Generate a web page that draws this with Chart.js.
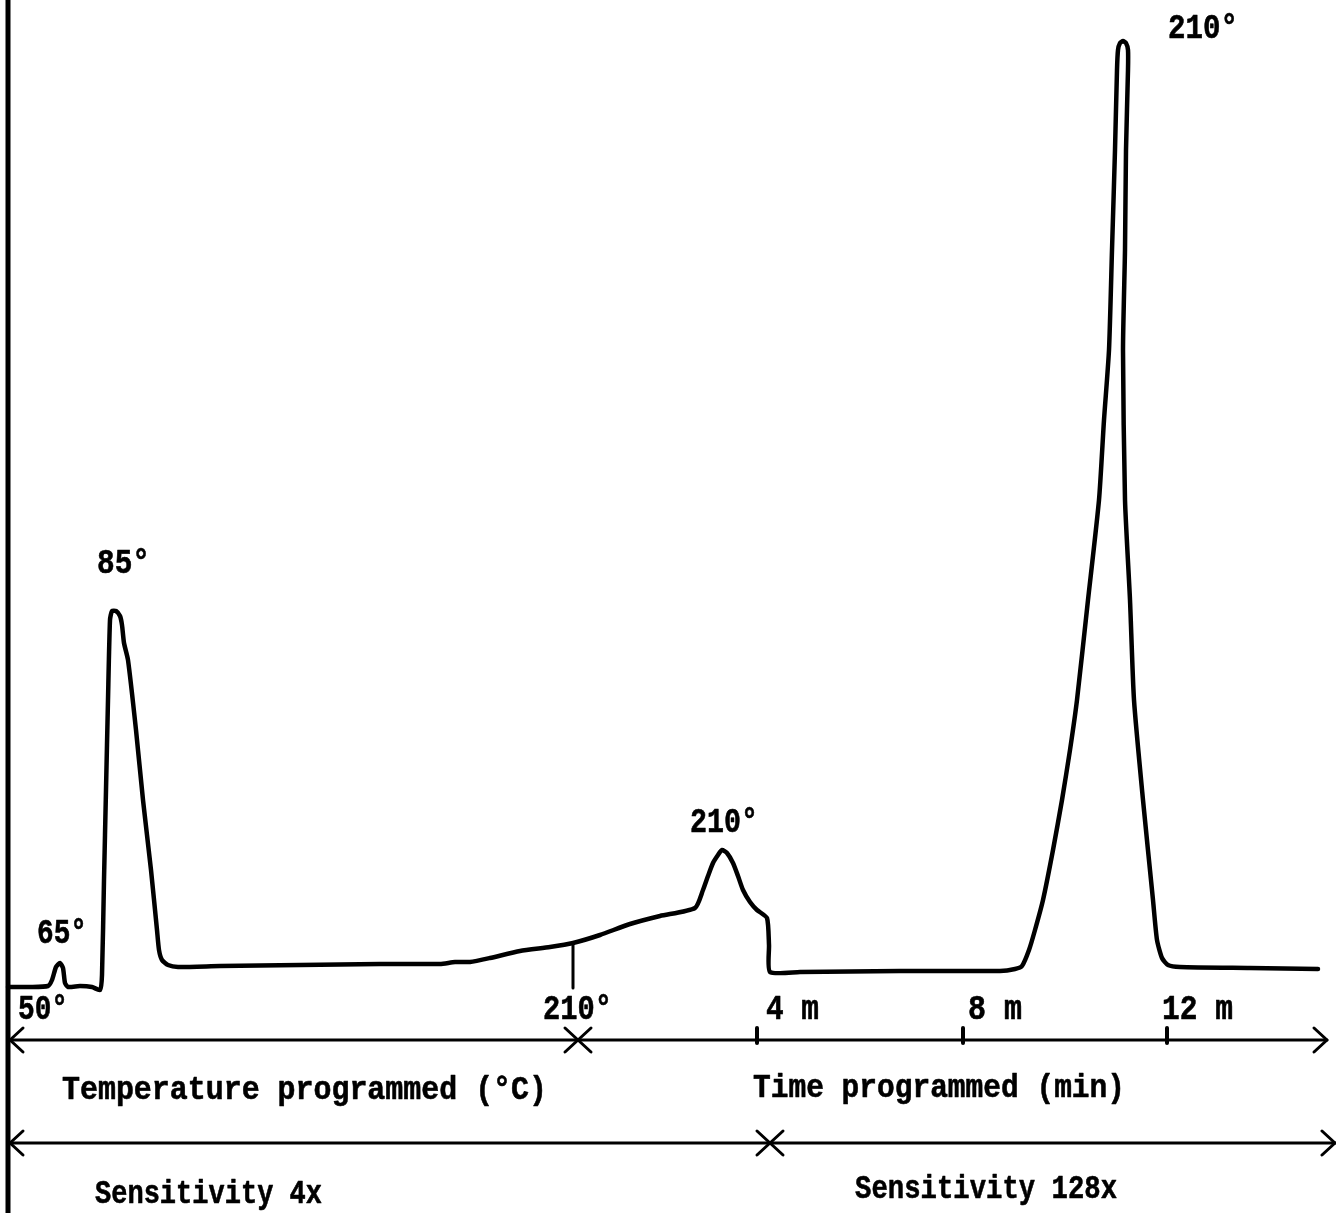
<!DOCTYPE html>
<html>
<head>
<meta charset="utf-8">
<title>Chromatogram</title>
<script src="https://cdn.jsdelivr.net/npm/chart.js@4.4.0/dist/chart.umd.min.js"></script>
<style>
  html, body { margin: 0; padding: 0; background: #fff; }
  #wrap { width: 1336px; height: 1213px; }
</style>
</head>
<body>
<div id="wrap"><canvas id="trace" width="1336" height="1213"></canvas></div>
<script>
// recorder trace: position along the chart paper / pen deflection above the paper edge
const traceX = [8, 30, 48, 52, 56, 60, 63, 65, 68, 80, 92, 100,
  102, 104, 106, 108, 110, 112, 116, 120, 122, 124, 128, 136, 143, 151, 157, 159, 162, 168, 178,
  220, 300, 380, 440, 455, 470, 490, 520, 550, 573, 600, 630, 660, 695,
  703, 708, 713, 718, 722, 727, 733, 738, 743, 750, 757, 767, 769, 770,
  800, 900, 1000, 1015, 1022, 1029, 1035, 1043, 1053, 1062, 1070, 1077, 1088, 1099, 1104, 1109, 1112, 1115, 1117,
  1118, 1120, 1123, 1126, 1128, 1128, 1126, 1125, 1123, 1125, 1130, 1134, 1143, 1153, 1157, 1162, 1168,
  1180, 1250, 1318];
const traceY = [226, 226, 227, 233, 246, 250, 245, 230, 226, 227, 226, 223,
  238, 333, 423, 513, 593, 602, 602, 597, 588, 570, 553, 483, 413, 343, 283, 263, 253, 248, 246,
  247, 248, 249, 249, 251, 251, 255, 262, 266, 270, 278, 289, 297, 305,
  323, 337, 350, 358, 363, 360, 350, 337, 323, 311, 303, 295, 268, 241,
  241, 242, 242, 244, 247, 263, 283, 313, 363, 413, 463, 513, 613, 713, 793, 863, 963, 1063, 1143,
  1163, 1170, 1172, 1170, 1163, 1143, 1063, 963, 863, 713, 613, 513, 413, 313, 273, 255, 248,
  246, 245, 244];

// peaks and the column temperature they came off at
const peakX = [60, 114, 722, 1123];
const peakLabels = ['65°', '85°', '210°', '210°'];

// programme scale under the trace
const tempTicks = [8, 573];
const tempTickLabels = ['50°', '210°'];
const timeTicks = [757, 963, 1167];
const timeTickLabels = ['4 m', '8 m', '12 m'];
const programmeNames = ['Temperature programmed (°C)', 'Time programmed (min)'];
const sensitivityNames = ['Sensitivity 4x', 'Sensitivity 128x'];
const programmeSwitch = 578;
const sensitivitySwitch = 770;

const FONT = '"Liberation Mono", "DejaVu Sans Mono", monospace';

// typewriter text squeezed to a given width
function typeText(ctx, text, left, base, size, width) {
  ctx.save();
  ctx.font = 'bold ' + size + 'px ' + FONT;
  const w = ctx.measureText(text).width;
  ctx.translate(left, base);
  ctx.scale(width / w, 1);
  ctx.fillStyle = '#000';
  ctx.strokeStyle = '#000';
  ctx.lineWidth = 0.6;
  ctx.textBaseline = 'alphabetic';
  ctx.fillText(text, 0, 0);
  ctx.strokeText(text, 0, 0);
  ctx.restore();
}

function line(ctx, x1, y1, x2, y2, w) {
  ctx.lineWidth = w;
  ctx.beginPath();
  ctx.moveTo(x1, y1);
  ctx.lineTo(x2, y2);
  ctx.stroke();
}

// dir = 1 points right, -1 points left
function arrowHead(ctx, tipX, tipY, dir) {
  ctx.lineWidth = 3;
  ctx.beginPath();
  ctx.moveTo(tipX - dir * 13, tipY - 12);
  ctx.lineTo(tipX, tipY);
  ctx.lineTo(tipX - dir * 13, tipY + 12);
  ctx.stroke();
}

const annotate = {
  id: 'annotate',
  afterDatasetsDraw(chart) {
    const { ctx } = chart;
    const xs = chart.scales.x, ys = chart.scales.y;
    const px = v => xs.getPixelForValue(v);
    const py = v => ys.getPixelForValue(v);

    ctx.save();
    ctx.strokeStyle = '#000';
    ctx.lineCap = 'round';
    ctx.lineJoin = 'round';

    // zero line of the recorder
    line(ctx, px(tempTicks[0]), 0, px(tempTicks[0]), chart.height, 5);

    // end of temperature programme marked on the trace
    line(ctx, px(tempTicks[1]), py(270), px(tempTicks[1]), py(225), 3);

    // programme row
    const row1 = py(173);
    line(ctx, px(tempTicks[0]), row1, px(1327), row1, 3);
    arrowHead(ctx, px(tempTicks[0]) + 2, row1, -1);
    arrowHead(ctx, px(1327), row1, 1);
    arrowHead(ctx, px(programmeSwitch), row1, 1);
    arrowHead(ctx, px(programmeSwitch), row1, -1);
    timeTicks.forEach(t => line(ctx, px(t), row1 - 12, px(t), row1 + 3, 4));

    // sensitivity row
    const row2 = py(70);
    line(ctx, px(tempTicks[0]), row2, px(1336), row2, 3);
    arrowHead(ctx, px(tempTicks[0]) + 2, row2, -1);
    arrowHead(ctx, px(1335), row2, 1);
    arrowHead(ctx, px(sensitivitySwitch), row2, 1);
    arrowHead(ctx, px(sensitivitySwitch), row2, -1);

    // peak labels, placed from each apex
    const peakDx = [-23, -17, -32, 45];
    const peakDy = [-20, -38, -18, -3];
    const peakW = [50, 53, 68, 70];
    peakX.forEach((p, i) => {
      let top = 0;
      traceX.forEach((tx, j) => { if (Math.abs(tx - p) < 8) top = Math.max(top, traceY[j]); });
      typeText(ctx, peakLabels[i], px(p) + peakDx[i], py(top) + peakDy[i], 35, peakW[i]);
    });

    // scale labels
    const base = row1 - 21;
    const tempDx = [10, -30], tempW = [50, 69];
    tempTicks.forEach((t, i) => typeText(ctx, tempTickLabels[i], px(t) + tempDx[i], base, 35, tempW[i]));
    const timeDx = [9, 5, -5], timeW = [53, 54, 71];
    timeTicks.forEach((t, i) => typeText(ctx, timeTickLabels[i], px(t) + timeDx[i], base, 35, timeW[i]));

    typeText(ctx, programmeNames[0], 62, row1 + 59, 34, 485);
    typeText(ctx, programmeNames[1], 753, row1 + 57, 34, 372);
    typeText(ctx, sensitivityNames[0], 95, row2 + 60, 34, 227);
    typeText(ctx, sensitivityNames[1], 855, row2 + 55, 34, 262);

    ctx.restore();
  }
};

new Chart(document.getElementById('trace'), {
  type: 'scatter',
  data: {
    datasets: [{
      data: traceX.map((x, i) => ({ x: x, y: traceY[i] })),
      showLine: true,
      pointRadius: 0,
      borderColor: '#000',
      borderWidth: 4.5,
      borderJoinStyle: 'round',
      borderCapStyle: 'round',
      tension: 0.2
    }]
  },
  options: {
    responsive: false,
    animation: false,
    layout: { padding: 0 },
    scales: {
      x: { type: 'linear', min: 0, max: 1336, display: false },
      y: { type: 'linear', min: 0, max: 1213, display: false }
    },
    plugins: {
      legend: { display: false },
      tooltip: { enabled: false }
    }
  },
  plugins: [annotate]
});
</script>
</body>
</html>
